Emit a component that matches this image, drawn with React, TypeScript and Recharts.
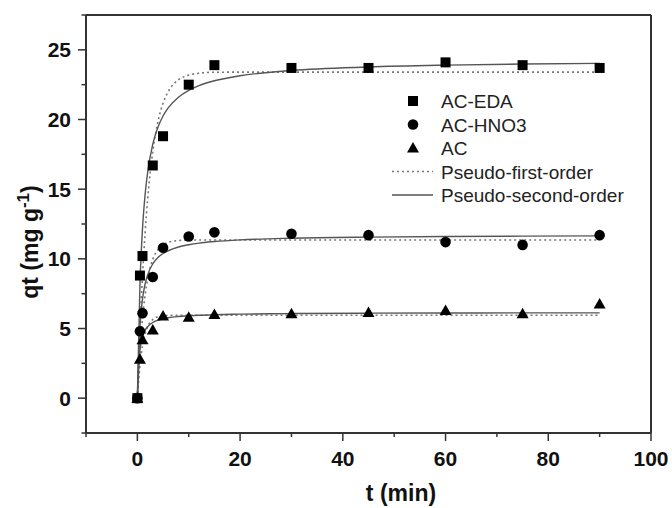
import { ComposedChart, Line, Scatter, XAxis, YAxis, ReferenceLine, Legend } from 'recharts';

// measured times (min)
const times = [0, 0.5, 1, 3, 5, 10, 15, 30, 45, 60, 75, 90];
const edaQ = [0, 8.8, 10.2, 16.7, 18.8, 22.5, 23.9, 23.7, 23.7, 24.1, 23.9, 23.7];
const hno3Q = [0, 4.8, 6.1, 8.7, 10.8, 11.6, 11.9, 11.8, 11.7, 11.2, 11.0, 11.7];
const acQ = [0, 2.8, 4.2, 4.9, 5.9, 5.8, 6.0, 6.05, 6.15, 6.3, 6.05, 6.75];

// fitted curves
const fitTimes = [0, 0.5, 1, 1.5, 2, 3, 4, 5, 6, 8, 10, 12, 15, 20, 30, 45, 60, 75, 90];
const edaFirst = [0, 4.9, 8.77, 11.84, 14.26, 17.69, 19.83, 21.17, 22.0, 22.85, 23.19, 23.32, 23.39, 23.4, 23.4, 23.4, 23.4, 23.4, 23.4];
const edaSecond = [0, 8.1, 12.15, 14.58, 16.2, 18.23, 19.44, 20.25, 20.83, 21.6, 22.09, 22.43, 22.78, 23.14, 23.52, 23.77, 23.9, 23.98, 24.03];
const hno3First = [0, 3.35, 5.71, 7.38, 8.55, 9.96, 10.66, 11.01, 11.18, 11.31, 11.35, 11.35, 11.35, 11.35, 11.35, 11.35, 11.35, 11.35, 11.35];
const hno3Second = [0, 5.1, 7.11, 8.18, 8.85, 9.64, 10.09, 10.38, 10.58, 10.85, 11.01, 11.13, 11.24, 11.36, 11.48, 11.56, 11.6, 11.63, 11.65];
const acFirst = [0, 2.34, 3.76, 4.62, 5.14, 5.65, 5.84, 5.91, 5.94, 5.95, 5.95, 5.95, 5.95, 5.95, 5.95, 5.95, 5.95, 5.95, 5.95];
const acSecond = [0, 3.42, 4.39, 4.86, 5.13, 5.43, 5.59, 5.69, 5.77, 5.86, 5.91, 5.95, 5.99, 6.03, 6.07, 6.1, 6.11, 6.12, 6.12];

const xTicks = [-10, 0, 10, 20, 30, 40, 50, 60, 70, 80, 90, 100];
const yTicks = [-2.5, 0, 2.5, 5, 7.5, 10, 12.5, 15, 17.5, 20, 22.5, 25, 27.5];
const legendNames = ['AC-EDA', 'AC-HNO3', 'AC', 'Pseudo-first-order', 'Pseudo-second-order'];

const pts = (ts: number[], qs: number[]) => ts.map((t, i) => ({ t, q: qs[i] }));

const FONT = '"Liberation Sans", Arial, sans-serif';
const AXIS = '#333';
const DOT = '#777';
const SOLID = '#555';

const Square = (p: any) => <rect x={p.cx - 5} y={p.cy - 5} width={10} height={10} fill="#000" />;
const Circle = (p: any) => <circle cx={p.cx} cy={p.cy} r={5.3} fill="#000" />;
const Tri = (p: any) => (
  <polygon points={`${p.cx},${p.cy - 6} ${p.cx + 6},${p.cy + 4.5} ${p.cx - 6},${p.cy + 4.5}`} fill="#000" />
);

const XTick = ({ x, y, payload }: any) => {
  const v = payload.value;
  const major = v >= 0 && v % 20 === 0;
  return (
    <g>
      <line x1={x} y1={y} x2={x} y2={y + (major ? 8 : 4)} stroke={AXIS} strokeWidth={1.5} />
      {major && (
        <text x={x} y={y + 33} textAnchor="middle" fontSize={21} fontWeight="bold" fontFamily={FONT} fill="#111">
          {v}
        </text>
      )}
    </g>
  );
};

const YTick = ({ x, y, payload }: any) => {
  const v = payload.value;
  const major = v >= 0 && v <= 25 && v % 5 === 0;
  return (
    <g>
      <line x1={x} y1={y} x2={x - (major ? 8 : 4.5)} y2={y} stroke={AXIS} strokeWidth={1.5} />
      {major && (
        <text x={x - 15} y={y + 7.5} textAnchor="end" fontSize={21} fontWeight="bold" fontFamily={FONT} fill="#111">
          {v}
        </text>
      )}
    </g>
  );
};

const XLabel = () => (
  <text x={401} y={501} textAnchor="middle" fontSize={23} fontWeight="bold" fontFamily={FONT} fill="#111">
    t (min)
  </text>
);

const YLabel = () => (
  <text
    x={0}
    y={0}
    transform="translate(38,242) rotate(-90)"
    textAnchor="middle"
    fontSize={23}
    fontWeight="bold"
    fontFamily={FONT}
    fill="#111"
  >
    qt (mg g
    <tspan dy={-9} fontSize={17}>-1</tspan>
    <tspan dy={9}>)</tspan>
  </text>
);

const LegendBox = () => {
  const rowY = [16, 39.5, 63, 86.5, 110];
  const marks = [
    <rect key="s" x={23} y={rowY[0] - 5} width={10} height={10} fill="#000" />,
    <circle key="c" cx={28} cy={rowY[1]} r={5.3} fill="#000" />,
    <polygon key="t" points={`28,${rowY[2] - 6} 34,${rowY[2] + 4.5} 22,${rowY[2] + 4.5}`} fill="#000" />,
    <line key="d" x1={7} x2={48} y1={rowY[3]} y2={rowY[3]} stroke={DOT} strokeWidth={1.5} strokeDasharray="2 3" />,
    <line key="l" x1={7} x2={48} y1={rowY[4]} y2={rowY[4]} stroke={SOLID} strokeWidth={1.3} />,
  ];
  return (
    <svg width={260} height={125} style={{ display: 'block' }}>
      {marks}
      {legendNames.map((n, i) => (
        <text key={n} x={56} y={rowY[i] + 7} fontSize={19} fontFamily={FONT} fill="#222">
          {n}
        </text>
      ))}
    </svg>
  );
};

export default function App() {
  return (
    <div style={{ position: 'absolute', left: 0, top: 0 }}>
      <ComposedChart width={672} height={508} margin={{ top: 15, right: 21, bottom: 0, left: 0 }}>
        <XAxis
          type="number"
          dataKey="t"
          domain={[-10, 100]}
          ticks={xTicks}
          interval={0}
          height={75}
          tickSize={0}
          tickMargin={0}
          tickLine={false}
          tick={<XTick />}
          axisLine={{ stroke: AXIS, strokeWidth: 2 }}
          label={<XLabel />}
          allowDataOverflow
        />
        <YAxis
          type="number"
          dataKey="q"
          domain={[-2.5, 27.5]}
          ticks={yTicks}
          interval={0}
          width={86}
          tickSize={0}
          tickMargin={0}
          tickLine={false}
          tick={<YTick />}
          axisLine={{ stroke: AXIS, strokeWidth: 2 }}
          label={<YLabel />}
          allowDataOverflow
        />
        <ReferenceLine y={27.5} stroke={AXIS} strokeWidth={2} />
        <ReferenceLine x={100} stroke={AXIS} strokeWidth={2} />
        <Line data={pts(fitTimes, edaFirst)} dataKey="q" type="monotone" stroke={DOT} strokeWidth={1.6} strokeDasharray="2 3" dot={false} isAnimationActive={false} />
        <Line data={pts(fitTimes, hno3First)} dataKey="q" type="monotone" stroke={DOT} strokeWidth={1.6} strokeDasharray="2 3" dot={false} isAnimationActive={false} />
        <Line data={pts(fitTimes, acFirst)} dataKey="q" type="monotone" stroke={DOT} strokeWidth={1.6} strokeDasharray="2 3" dot={false} isAnimationActive={false} />
        <Line data={pts(fitTimes, edaSecond)} dataKey="q" type="monotone" stroke={SOLID} strokeWidth={1.4} dot={false} isAnimationActive={false} />
        <Line data={pts(fitTimes, hno3Second)} dataKey="q" type="monotone" stroke={SOLID} strokeWidth={1.4} dot={false} isAnimationActive={false} />
        <Line data={pts(fitTimes, acSecond)} dataKey="q" type="monotone" stroke={SOLID} strokeWidth={1.4} dot={false} isAnimationActive={false} />
        <Scatter name="AC-EDA" data={pts(times, edaQ)} shape={Square} isAnimationActive={false} />
        <Scatter name="AC-HNO3" data={pts(times, hno3Q)} shape={Circle} isAnimationActive={false} />
        <Scatter name="AC" data={pts(times, acQ)} shape={Tri} isAnimationActive={false} />
        <Legend
          layout="vertical"
          align="center"
          verticalAlign="middle"
          content={<LegendBox />}
          wrapperStyle={{ left: 385, top: 85, width: 260, height: 125 }}
        />
      </ComposedChart>
    </div>
  );
}
